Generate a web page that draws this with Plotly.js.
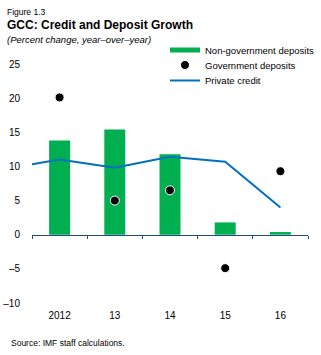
<!DOCTYPE html>
<html>
<head>
<meta charset="utf-8">
<script src="https://cdn.plot.ly/plotly-3.0.1.min.js"></script>
<style>
  body { margin: 0; background: #fff; }
  #graph { width: 321px; height: 355px; }
</style>
</head>
<body>
<div id="graph"></div>
<script>
// values
var years = ['2012', '13', '14', '15', '16'];
var nonGovDeposits = [13.8, 15.4, 11.8, 1.8, 0.4];
var govDeposits = [20.1, 5.0, 6.5, -4.9, 9.3];
var privateCredit = [11.0, 9.8, 11.4, 10.7, 4.0];
var privateCreditStart = 10.3; // line starts at the left edge of the plot
var yTickVals = [-10, -5, 0, 5, 10, 15, 20, 25];
var yTickText = ['\u201310', '\u20135', '0', '5', '10', '15', '20', '25'];

var font = 'Liberation Sans, Arial, sans-serif';
var W = 321, H = 355;
var M = {l: 32, r: 13, t: 64, b: 52};
var plotH = H - M.t - M.b, plotW = W - M.l - M.r;
function py(px) { return (H - M.b - px) / plotH; }
function pxx(px) { return (px - M.l) / plotW; }

var idx = years.map(function (y, i) { return i; });
var creditX = [-0.5].concat(idx);
var creditY = [privateCreditStart].concat(privateCredit);
var bounds = [-0.5].concat(idx.map(function (i) { return i + 0.5; }));

var bars = {
    type: 'bar',
    x: idx,
    y: nonGovDeposits,
    width: 0.38,
    marker: {color: '#00B050'},
    name: 'Non-government deposits',
    showlegend: false,
    hoverinfo: 'y'
};

// legend swatch drawn as a wide band like the original
var barKey = {
    type: 'scatter',
    mode: 'lines',
    x: [null],
    y: [null],
    line: {color: '#00B050', width: 5},
    name: 'Non-government deposits',
    legend: 'legend'
};

var dots = {
    type: 'scatter',
    mode: 'markers',
    x: idx,
    y: govDeposits,
    marker: {color: '#000000', size: 9, line: {color: '#ffffff', width: 1}},
    name: 'Government deposits',
    legend: 'legend2'
};

var line = {
    type: 'scatter',
    mode: 'lines',
    x: creditX,
    y: creditY,
    xaxis: 'x2',
    line: {color: '#0070C0', width: 2},
    name: 'Private credit',
    legend: 'legend3'
};

function legendAt(px, ypx) {
    return {
        x: pxx(px), y: py(ypx), xanchor: 'left', yanchor: 'middle',
        font: {family: font, size: 9.5, color: '#000000'},
        bgcolor: 'rgba(0,0,0,0)',
        itemwidth: 30
    };
}

var layout = {
    width: W,
    height: H,
    margin: {l: M.l, r: M.r, t: M.t, b: M.b, autoexpand: false},
    paper_bgcolor: '#ffffff',
    plot_bgcolor: '#ffffff',
    font: {family: font, size: 10, color: '#000000'},
    showlegend: true,
    legend: legendAt(165, 50),
    legend2: legendAt(165, 65),
    legend3: legendAt(165, 80.5),
    xaxis: {
        range: [-0.5, 4.5],
        tickvals: idx,
        ticktext: years,
        showline: false,
        showgrid: false,
        zeroline: false,
        ticks: '',
        ticklabelstandoff: 5,
        tickfont: {size: 10}
    },
    xaxis2: {
        overlaying: 'x',
        anchor: 'free',
        position: 10 / 35,
        range: [-0.5, 4.5],
        tickvals: bounds,
        showticklabels: false,
        showline: true,
        linecolor: '#1F4E79',
        linewidth: 1.2,
        ticks: 'outside',
        ticklen: 3,
        tickcolor: '#1F4E79',
        showgrid: false,
        zeroline: false
    },
    yaxis: {
        range: [-10, 25],
        tickvals: yTickVals,
        ticktext: yTickText,
        showline: false,
        showgrid: false,
        zeroline: false,
        ticks: '',
        ticklabelstandoff: 11,
        tickfont: {size: 10}
    },
    annotations: [
        {text: 'Figure 1.3', x: pxx(5), y: py(12), font: {size: 8.5}},
        {text: '<b>GCC: Credit and Deposit Growth</b>', x: pxx(5), y: py(25), font: {size: 12}},
        {text: '<i>(Percent change, year\u2013over\u2013year)</i>', x: pxx(5), y: py(39), font: {size: 9.5}},
        {text: 'Source: IMF staff calculations.', x: pxx(9), y: py(343), font: {size: 8.5}}
    ].map(function (a) {
        a.xref = 'paper';
        a.yref = 'paper';
        a.xanchor = 'left';
        a.yanchor = 'middle';
        a.showarrow = false;
        return a;
    })
};

Plotly.newPlot(document.getElementById('graph'), [bars, barKey, dots, line], layout, {displayModeBar: false, staticPlot: true});
</script>
</body>
</html>
